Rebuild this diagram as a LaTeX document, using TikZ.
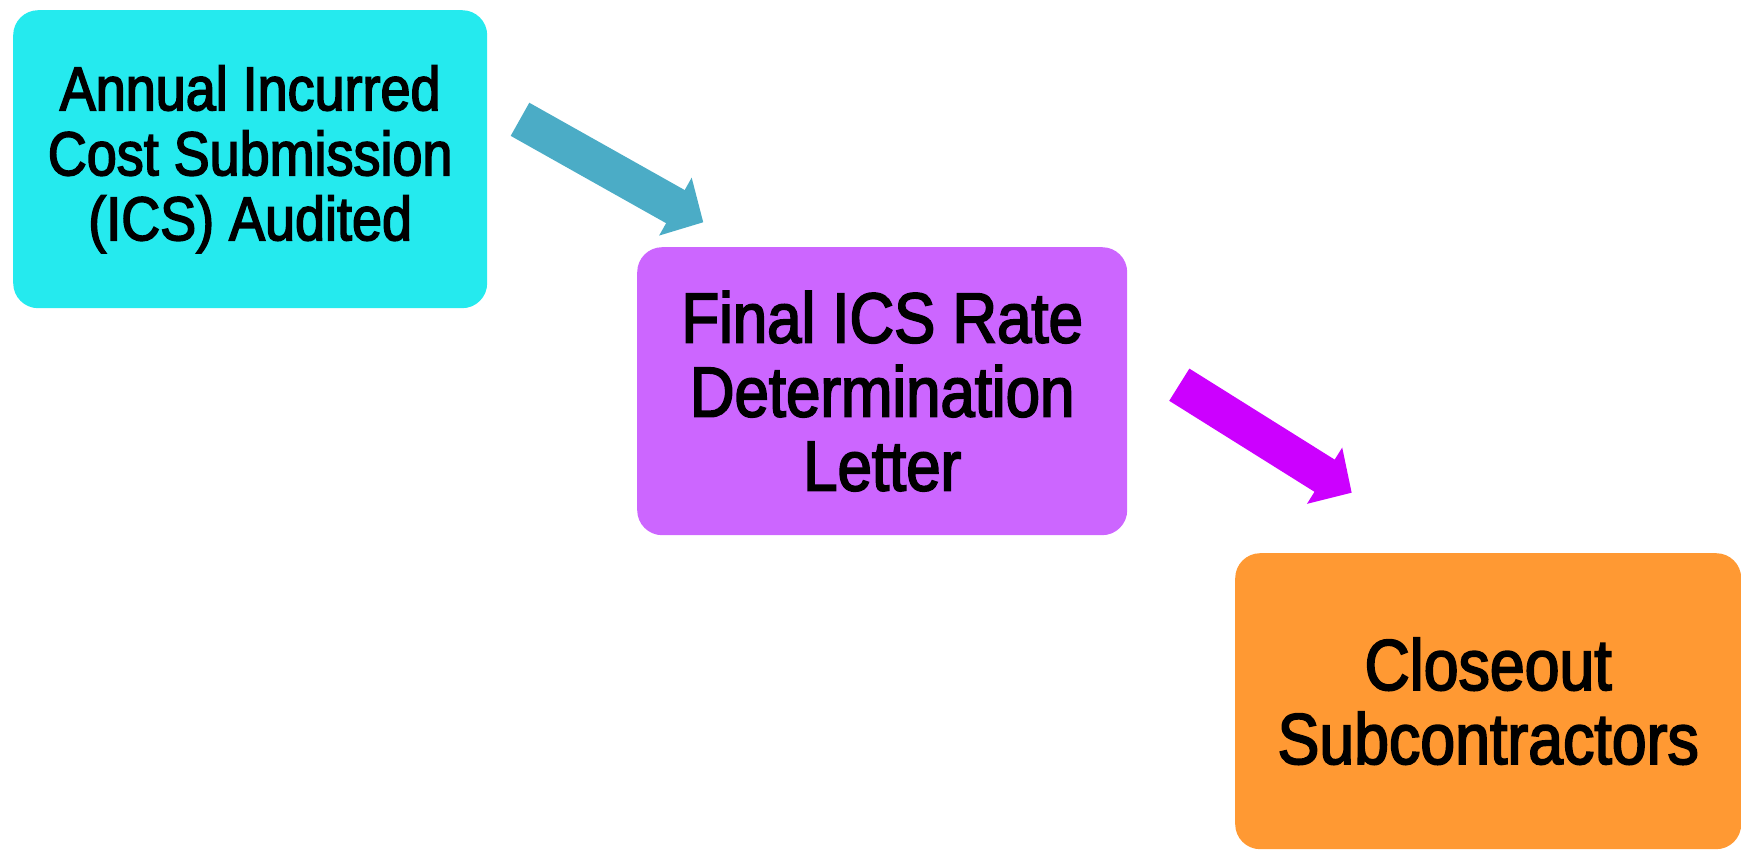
\documentclass[tikz,border=0pt]{standalone}
\usepackage{fontspec}
\newfontfamily\stagefont{Liberation Sans}[FakeStretch=0.87,FakeBold=2.5]
\usetikzlibrary{arrows.meta}
\definecolor{boxcyan}{HTML}{25EAEE}
\definecolor{boxviolet}{HTML}{CC66FF}
\definecolor{boxorange}{HTML}{FF9933}
\definecolor{arrowteal}{HTML}{4BACC6}
\definecolor{arrowviolet}{HTML}{CC00FF}
\tikzset{
  stagebox/.style={rounded corners=25pt, inner sep=0pt, align=center,
    text=black, anchor=north west},
  blockarrow/.style={line width=38pt, line cap=butt,
    -{Triangle[length=32pt,width=64.5pt]}}
}
\begin{document}
\begin{tikzpicture}[x=1pt,y=-1pt]
  \useasboundingbox (0,0) rectangle (1741,850);
  % process stages
  \node[stagebox, fill=boxcyan, minimum width=474pt, minimum height=298pt,
        font=\stagefont\fontsize{62}{65}\selectfont] (ics) at (13,10)
        {Annual Incurred\\Cost Submission\\(ICS) Audited};
  \node[stagebox, fill=boxviolet, minimum width=490pt, minimum height=288pt,
        font=\stagefont\fontsize{71}{74}\selectfont] (rate) at (637,247)
        {Final ICS Rate\\Determination\\Letter};
  \node[stagebox, fill=boxorange, minimum width=506pt, minimum height=296pt,
        font=\stagefont\fontsize{72}{74}\selectfont] (close) at (1235,553)
        {Closeout\\Subcontractors};
  % block arrows between the stages
  \coordinate (a1s) at (520,119.3);
  \coordinate (a1e) at (703.3,222.3);
  \coordinate (a2s) at (1179.3,384.7);
  \coordinate (a2e) at (1351.7,492.7);
  \draw[blockarrow, draw=arrowteal, fill=arrowteal] (a1s) -- (a1e);
  \draw[blockarrow, draw=arrowviolet, fill=arrowviolet] (a2s) -- (a2e);
\end{tikzpicture}
\end{document}
